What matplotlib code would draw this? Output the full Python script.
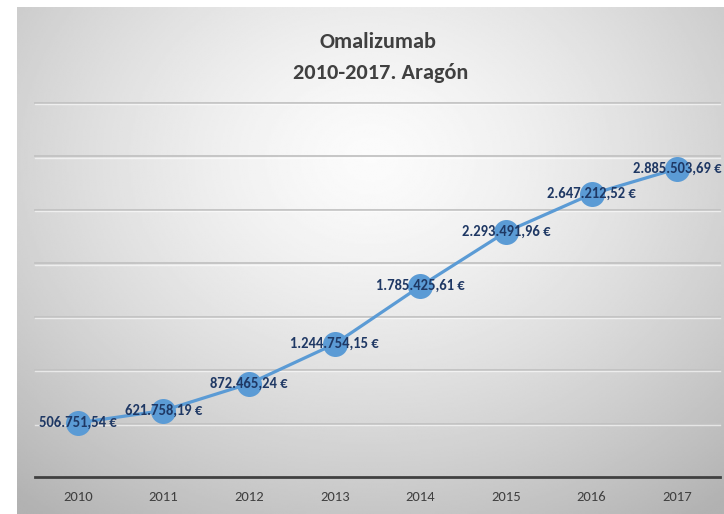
import numpy as np
import matplotlib.pyplot as plt
import matplotlib.transforms as mtransforms

# datos
years = ['2010', '2011', '2012', '2013', '2014', '2015', '2016', '2017']
values = [506751.54, 621758.19, 872465.24, 1244754.15,
          1785425.61, 2293491.96, 2647212.52, 2885503.69]
labels = ['506.751,54 €', '621.758,19 €', '872.465,24 €', '1.244.754,15 €',
          '1.785.425,61 €', '2.293.491,96 €', '2.647.212,52 €', '2.885.503,69 €']
grid_levels = [500000, 1000000, 1500000, 2000000, 2500000, 3000000, 3500000]

plt.rcParams['font.family'] = ['Carlito', 'DejaVu Sans']

W, H = 724, 514
fig = plt.figure(figsize=(W / 100, H / 100), dpi=100)
fig.patch.set_facecolor('white')

# fondo con degradado radial (estilo Excel)
bg = fig.add_axes([17 / W, 0, 1 - 17 / W, 1 - 7 / H])
yy, xx = np.mgrid[0:1:300j, 0:1:400j]
r = np.sqrt(((xx - 0.5) / 0.6) ** 2 + ((yy - 0.3) / 0.68) ** 2)
r = np.clip(r, 0, 1.3)
img = 0.985 - 0.2 * r ** 1.4
bg.imshow(img, cmap='gray', vmin=0, vmax=1, aspect='auto',
          extent=[0, 1, 0, 1], interpolation='bilinear')
bg.axis('off')

ax = fig.add_axes([35 / W, 1 - 477 / H, (720 - 35) / W, (477 - 103) / H])
ax.patch.set_alpha(0)

# lineas de cuadricula con brillo blanco debajo
ytrans = ax.get_yaxis_transform()
shift = mtransforms.offset_copy(ytrans, fig=fig, x=0, y=-1.3, units='dots')
for g in grid_levels:
    ax.plot([0, 1], [g, g], color='#c2c2c2', linewidth=1.3, zorder=1,
            transform=ytrans, clip_on=False)
    ax.plot([0, 1], [g, g], color='white', linewidth=1.0, alpha=0.6, zorder=1,
            transform=shift, clip_on=False)

x = np.arange(len(years))
ax.plot(x, values, color='#5b9bd5', linewidth=2.3, marker='o',
        markersize=18, markerfacecolor='#5b9bd5', markeredgewidth=0, zorder=3)

for xi, v, lab in zip(x, values, labels):
    ax.text(xi, v, lab, ha='center', va='center', fontsize=10.5,
            fontweight='bold', color='#1f3864', zorder=4)

ax.set_xlim(-0.5, len(years) - 0.5)
ax.set_ylim(0, 3500000)
ax.set_yticks([])
ax.set_xticks(x)
ax.set_xticklabels(years, fontsize=10.5, color='#404040')
ax.tick_params(axis='x', length=0, pad=10)
for s in ['top', 'right', 'left']:
    ax.spines[s].set_visible(False)
ax.spines['bottom'].set_color('#404040')
ax.spines['bottom'].set_linewidth(2)

fig.text(378 / W, 1 - 42 / H, 'Omalizumab', ha='center', va='center',
         fontsize=16, fontweight='bold', color='#404040')
fig.text(381 / W, 1 - 73 / H, '2010-2017. Aragón', ha='center', va='center',
         fontsize=16, fontweight='bold', color='#404040')

fig.savefig('out.png', dpi=100)
